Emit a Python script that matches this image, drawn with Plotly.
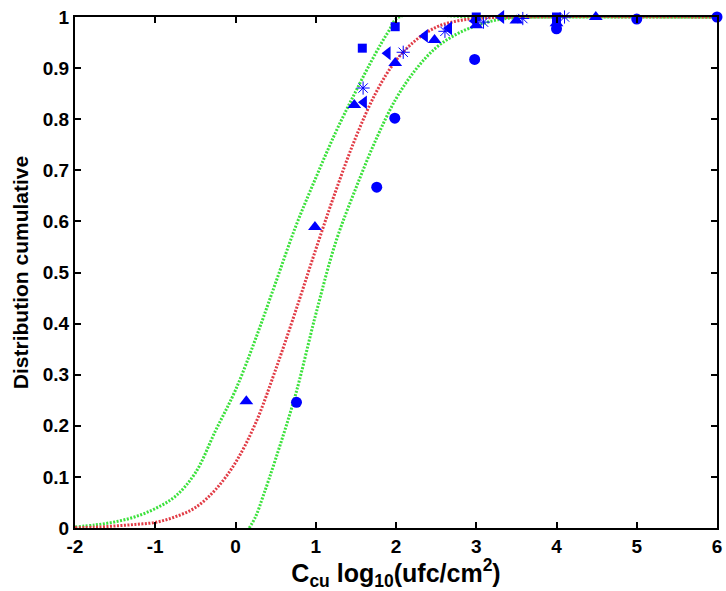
import plotly.graph_objects as go

# ---- data ----
red_x = [-2.0, -1.75, -1.5, -1.25, -1.0, -0.75, -0.5, -0.25, 0.0, 0.25, 0.5, 0.75, 1.0, 1.25, 1.5, 1.75, 2.0, 2.25, 2.5, 2.75, 3.0, 3.5, 6.0]
red_y = [0.0005, 0.0015, 0.004, 0.007, 0.011, 0.022, 0.040, 0.075, 0.128, 0.205, 0.31, 0.425, 0.545, 0.66, 0.765, 0.852, 0.915, 0.955, 0.98, 0.992, 0.997, 1.0, 1.0]

gl_x = [-2.0, -1.75, -1.5, -1.25, -1.0, -0.75, -0.5, -0.25, 0.0, 0.25, 0.5, 0.75, 1.0, 1.25, 1.5, 1.75, 1.9, 2.04, 3.0, 6.0]
gl_y = [0.002, 0.006, 0.012, 0.022, 0.038, 0.062, 0.108, 0.19, 0.27, 0.37, 0.48, 0.59, 0.685, 0.775, 0.855, 0.93, 0.97, 1.0, 1.0, 1.0]

gr_x = [0.17, 0.25, 0.35, 0.5, 0.75, 1.0, 1.25, 1.5, 1.75, 2.0, 2.25, 2.5, 2.75, 3.0, 3.25, 3.5, 3.75, 6.0]
gr_y = [0.0, 0.022, 0.065, 0.135, 0.262, 0.418, 0.56, 0.665, 0.76, 0.84, 0.898, 0.94, 0.966, 0.983, 0.994, 0.999, 1.0, 1.0]

sq_x = [1.58, 1.99, 3.0, 4.0, 4.0]
sq_y = [0.939, 0.981, 1.0, 1.0, 0.994]

ci_x = [0.76, 1.76, 1.985, 2.98, 4.0, 5.0, 6.0]
ci_y = [0.246, 0.667, 0.802, 0.917, 0.977, 0.996, 1.0]

tu_x = [0.135, 0.99, 1.48, 1.99, 2.48, 3.0, 3.5, 4.0, 4.49]
tu_y = [0.248, 0.589, 0.828, 0.910, 0.955, 0.984, 0.993, 0.988, 1.0]

tl_x = [1.6, 1.895, 2.36, 2.66, 2.98, 3.31]
tl_y = [0.833, 0.929, 0.963, 0.978, 0.992, 1.0]

st_x = [1.59, 2.09, 2.61, 3.09, 3.58, 4.1]
st_y = [0.861, 0.931, 0.972, 0.990, 0.997, 1.0]

x_ticks = [-2, -1, 0, 1, 2, 3, 4, 5, 6]
y_ticks = [0, 0.1, 0.2, 0.3, 0.4, 0.5, 0.6, 0.7, 0.8, 0.9, 1]
y_tick_text = ["0", "0.1", "0.2", "0.3", "0.4", "0.5", "0.6", "0.7", "0.8", "0.9", "1"]

BLUE = "rgb(0,0,255)"
GREEN = "rgb(60,225,60)"
RED = "rgb(225,60,70)"
fig = go.Figure()

line_dash = "2px,1.5px"
for xs, ys, col in [(gl_x, gl_y, GREEN), (gr_x, gr_y, GREEN), (red_x, red_y, RED)]:
    fig.add_trace(go.Scatter(x=xs, y=ys, mode="lines",
                             line=dict(color=col, width=3, dash=line_dash, shape="spline", smoothing=1.0)))

def mk(x, y, sym, size, lw=0):
    return go.Scatter(x=x, y=y, mode="markers", cliponaxis=False,
                      marker=dict(symbol=sym, size=size, color=BLUE, line=dict(color=BLUE, width=lw)))

fig.add_trace(mk(sq_x, sq_y, "square", 9))
fig.add_trace(mk(ci_x, ci_y, "circle", 11))
fig.add_trace(mk(tu_x, tu_y, "triangle-up", 12))
fig.add_trace(mk(tl_x, tl_y, "triangle-left", 12))
fig.add_trace(mk(st_x, st_y, "asterisk-open", 11, 1.0))

FAM = "Liberation Sans, Arial, sans-serif"
tickfont = dict(family=FAM, size=19, color="black", weight="bold")

fig.update_layout(
    width=726, height=591,
    margin=dict(l=75, r=4, t=17, b=63),
    paper_bgcolor="white", plot_bgcolor="white",
    showlegend=False,
    xaxis=dict(range=[-2, 6], tickvals=x_ticks, ticktext=[str(v) for v in x_ticks],
               ticks="inside", ticklen=6, tickwidth=2, tickcolor="black",
               showline=True, linecolor="black", linewidth=2, mirror="ticks",
               showgrid=False, zeroline=False, tickfont=tickfont,
               title=dict(text="C<sub>cu</sub> log<sub>10</sub>(ufc/cm<sup>2</sup>)",
                          font=dict(family=FAM, size=25, color="black", weight="bold"), standoff=4)),
    yaxis=dict(range=[0, 1], tickvals=y_ticks, ticktext=y_tick_text,
               ticks="inside", ticklen=6, tickwidth=2, tickcolor="black",
               showline=True, linecolor="black", linewidth=2, mirror="ticks",
               showgrid=False, zeroline=False, tickfont=tickfont,
               title=dict(text="Distribution cumulative",
                          font=dict(family=FAM, size=21, color="black", weight="bold"), standoff=8)),
)

fig.write_html("out.html")
